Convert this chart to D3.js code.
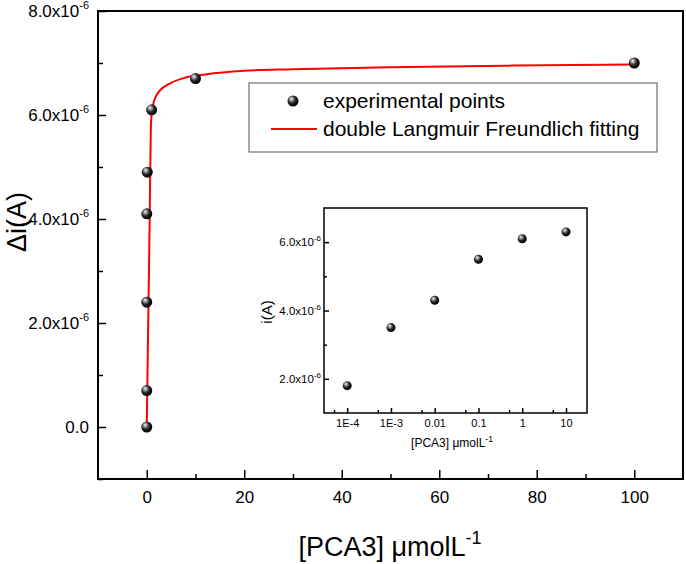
<!DOCTYPE html>
<html>
<head>
<meta charset="utf-8">
<script src="https://cdn.jsdelivr.net/npm/d3@7"></script>
<style>
  body { margin: 0; background: white; }
  svg { display: block; }
  text { font-family: "Liberation Sans", Arial, sans-serif; fill: black; }
</style>
</head>
<body>
<svg id="chart"></svg>
<script>
// main chart data
const pcaConc = [0, 0.0001, 0.001, 0.01, 0.1, 1, 10, 100];
const deltaI = [0, 0.7e-6, 2.4e-6, 4.1e-6, 4.9e-6, 6.1e-6, 6.7e-6, 7.0e-6];

// fitted curve
const fitX = [0, 0.3, 0.6, 0.85, 1.2, 2, 3, 5, 8, 12, 20, 30, 50, 75, 100];
const fitY = [0, 2.0e-6, 4.0e-6, 5.8e-6, 6.15e-6, 6.38e-6, 6.5e-6, 6.62e-6, 6.72e-6, 6.78e-6, 6.85e-6, 6.88e-6, 6.92e-6, 6.95e-6, 6.97e-6];

// inset data (log x)
const insetConc = [1e-4, 1e-3, 0.01, 0.1, 1, 10];
const insetI = [1.8e-6, 3.5e-6, 4.3e-6, 5.5e-6, 6.1e-6, 6.3e-6];
const insetTickLabels = ["1E-4", "1E-3", "0.01", "0.1", "1", "10"];

const mainYTicks = [0, 2e-6, 4e-6, 6e-6, 8e-6];
const mainYLabels = ["0.0", "2.0x10|-6", "4.0x10|-6", "6.0x10|-6", "8.0x10|-6"];
const mainXTicks = [0, 20, 40, 60, 80, 100];
const insetYTicks = [2e-6, 4e-6, 6e-6];
const insetYLabels = ["2.0x10|-6", "4.0x10|-6", "6.0x10|-6"];

const w = 686, h = 564;
const font = "'Liberation Sans', Arial, sans-serif";

const svg = d3.select("#chart").attr("width", w).attr("height", h);

// sphere marker
const grad = svg.append("defs").append("radialGradient")
  .attr("id", "ball").attr("cx", "40%").attr("cy", "40%").attr("r", "60%")
  .attr("fx", "35%").attr("fy", "30%");
grad.append("stop").attr("offset", "0%").attr("stop-color", "#ffffff");
grad.append("stop").attr("offset", "25%").attr("stop-color", "#9a9a9a");
grad.append("stop").attr("offset", "60%").attr("stop-color", "#222");
grad.append("stop").attr("offset", "100%").attr("stop-color", "#000");

// superscript label helper: "base|sup"
function supLabel(sel, labels, supSize, rise) {
  sel.each(function(d, i) {
    const t = d3.select(this).text(null);
    const parts = labels[i].split("|");
    t.append("tspan").text(parts[0]);
    if (parts[1]) {
      t.append("tspan").attr("dy", -rise).style("font-size", supSize + "px").text(parts[1]);
    }
  });
}

// ---------- main plot ----------
const mLeft = 98, mRight = 683, mTop = 11, mBottom = 479;
const x = d3.scaleLinear().domain([-10, 110]).range([mLeft, mRight]);
const y = d3.scaleLinear().domain([-1e-6, 8e-6]).range([mBottom, mTop]);

const yAxis = svg.append("g").attr("transform", `translate(${mLeft},0)`)
  .call(d3.axisLeft(y).tickValues(mainYTicks).tickSizeInner(-8).tickSizeOuter(0).tickPadding(9));
yAxis.selectAll(".tick text").style("font-size", "17px").attr("font-family", font);
supLabel(yAxis.selectAll(".tick text"), mainYLabels, 11, 8);
svg.append("g").attr("transform", `translate(${mLeft},0)`)
  .call(d3.axisLeft(y).tickValues([-1e-6, 1e-6, 3e-6, 5e-6, 7e-6]).tickSizeInner(-5).tickSizeOuter(0).tickFormat(""));

const xAxis = svg.append("g").attr("transform", `translate(0,${mBottom})`)
  .call(d3.axisBottom(x).tickValues(mainXTicks).tickSizeInner(-9).tickSizeOuter(0).tickPadding(12));
xAxis.selectAll(".tick text").style("font-size", "17px").attr("font-family", font);
svg.append("g").attr("transform", `translate(0,${mBottom})`)
  .call(d3.axisBottom(x).tickValues([10, 30, 50, 70, 90]).tickSizeInner(-5).tickSizeOuter(0).tickFormat(""));

svg.selectAll(".domain").remove();
svg.selectAll(".tick line").attr("stroke-width", 2);

svg.append("rect").attr("x", mLeft).attr("y", mTop)
  .attr("width", mRight - mLeft).attr("height", mBottom - mTop)
  .attr("fill", "none").attr("stroke", "black").attr("stroke-width", 2);

// fit curve
const line = d3.line().x(d => x(d[0])).y(d => y(d[1])).curve(d3.curveMonotoneX);
svg.append("path").datum(fitX.map((v, i) => [v, fitY[i]]))
  .attr("d", line).attr("fill", "none").attr("stroke", "#ff0000").attr("stroke-width", 2);

svg.selectAll("circle.main").data(pcaConc).enter().append("circle")
  .attr("class", "main")
  .attr("cx", d => x(d)).attr("cy", (d, i) => y(deltaI[i])).attr("r", 5.5)
  .attr("fill", "url(#ball)");

// axis titles
const xt = svg.append("text").attr("x", 390).attr("y", 556).attr("text-anchor", "middle")
  .style("font-size", "27px");
xt.append("tspan").text("[PCA3] \u03bcmolL");
xt.append("tspan").attr("dy", -12).style("font-size", "18px").text("-1");

svg.append("text").attr("transform", "translate(26,222) rotate(-90)")
  .attr("text-anchor", "middle").style("font-size", "27px").text("\u0394i(A)");

// legend
svg.append("rect").attr("x", 249).attr("y", 83).attr("width", 408).attr("height", 69)
  .attr("fill", "white").attr("stroke", "#555").attr("stroke-width", 1);
svg.append("circle").attr("cx", 293).attr("cy", 101).attr("r", 5.5).attr("fill", "url(#ball)");
svg.append("line").attr("x1", 271).attr("x2", 317).attr("y1", 129).attr("y2", 129)
  .attr("stroke", "#ff0000").attr("stroke-width", 2);
svg.append("text").attr("x", 323).attr("y", 108).style("font-size", "21px").text("experimental points");
svg.append("text").attr("x", 323).attr("y", 136).style("font-size", "21px").text("double Langmuir Freundlich fitting");

// ---------- inset ----------
const il = 324, ir = 587, it = 208, ib = 413;
const ix = d3.scaleLog().domain([Math.pow(10, -4.53), Math.pow(10, 1.48)]).range([il, ir]);
const iy = d3.scaleLinear().domain([1e-6, 7e-6]).range([ib, it]);

svg.append("rect").attr("x", il).attr("y", it).attr("width", ir - il).attr("height", ib - it)
  .attr("fill", "white");

const iyAxis = svg.append("g").attr("transform", `translate(${il},0)`)
  .call(d3.axisLeft(iy).tickValues(insetYTicks).tickSizeInner(-5).tickSizeOuter(0).tickPadding(3));
iyAxis.selectAll(".tick text").style("font-size", "11.5px").attr("font-family", font);
supLabel(iyAxis.selectAll(".tick text"), insetYLabels, 8, 5);
svg.append("g").attr("transform", `translate(${il},0)`)
  .call(d3.axisLeft(iy).tickValues([3e-6, 5e-6]).tickSizeInner(-3).tickSizeOuter(0).tickFormat(""));

const ixAxis = svg.append("g").attr("transform", `translate(0,${ib})`)
  .call(d3.axisBottom(ix).tickValues(insetConc).tickSizeInner(-5).tickSizeOuter(0).tickPadding(6)
    .tickFormat((d, i) => insetTickLabels[i]));
ixAxis.selectAll(".tick text").style("font-size", "11px").attr("font-family", font);
svg.append("g").attr("transform", `translate(0,${ib})`)
  .call(d3.axisBottom(ix).tickValues([5e-5, 5e-4, 5e-3, 0.05, 0.5, 5]).tickSizeInner(-3).tickSizeOuter(0).tickFormat(""));

svg.selectAll(".domain").remove();
svg.selectAll(".tick line").attr("stroke-width", 1.5);

svg.append("rect").attr("x", il).attr("y", it).attr("width", ir - il).attr("height", ib - it)
  .attr("fill", "none").attr("stroke", "black").attr("stroke-width", 1.5);

svg.selectAll("circle.inset").data(insetConc).enter().append("circle")
  .attr("class", "inset")
  .attr("cx", d => ix(d)).attr("cy", (d, i) => iy(insetI[i])).attr("r", 4.5)
  .attr("fill", "url(#ball)");

const ixt = svg.append("text").attr("x", 452).attr("y", 447).attr("text-anchor", "middle")
  .style("font-size", "12px");
ixt.append("tspan").text("[PCA3] \u03bcmolL");
ixt.append("tspan").attr("dy", -5).style("font-size", "8.5px").text("-1");

svg.append("text").attr("transform", "translate(272,312) rotate(-90)")
  .attr("text-anchor", "middle").style("font-size", "15px").text("i(A)");
</script>
</body>
</html>
